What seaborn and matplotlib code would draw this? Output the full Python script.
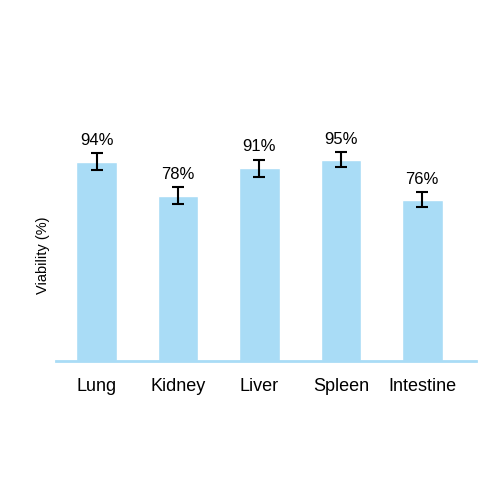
import matplotlib
matplotlib.use("Agg")
import matplotlib.pyplot as plt
import seaborn as sns
import pandas as pd

# data
organs = ["Lung", "Kidney", "Liver", "Spleen", "Intestine"]
viability = [94, 78, 91, 95, 76]
errors = [4, 4, 4, 3.5, 3.5]

BAR_COLOR = "#a9dcf6"

sns.set_theme(style="white")
plt.rcParams["font.family"] = ["Liberation Sans", "DejaVu Sans"]
plt.rcParams["text.color"] = "black"
plt.rcParams["axes.labelcolor"] = "black"
plt.rcParams["xtick.color"] = "black"

df = pd.DataFrame({"organ": organs, "viability": viability})

fig = plt.figure(figsize=(5, 5), dpi=100)
ax = fig.add_axes([0.112, 0.278, 0.84, 0.424])

sns.barplot(data=df, x="organ", y="viability", color=BAR_COLOR,
            saturation=1, width=0.5, ax=ax)
ax.errorbar(range(len(organs)), viability, yerr=errors, fmt="none",
            ecolor="black", elinewidth=1.5, capsize=4, capthick=1.5, clip_on=False)

for i, (v, e) in enumerate(zip(viability, errors)):
    ax.text(i, v + e + 2.5, f"{v}%", ha="center", va="bottom", fontsize=12)

ax.set_ylim(0, 100)
ax.set_xlim(-0.5, 4.66)
ax.set_yticks([])
ax.set_xlabel("")
ax.set_ylabel("Viability (%)", fontsize=10.5)
ax.tick_params(axis="x", labelsize=13, length=0, pad=12)

for side in ["top", "right", "left"]:
    ax.spines[side].set_visible(False)
ax.spines["bottom"].set_color(BAR_COLOR)
ax.spines["bottom"].set_linewidth(2)

fig.savefig("out.png", dpi=100)
